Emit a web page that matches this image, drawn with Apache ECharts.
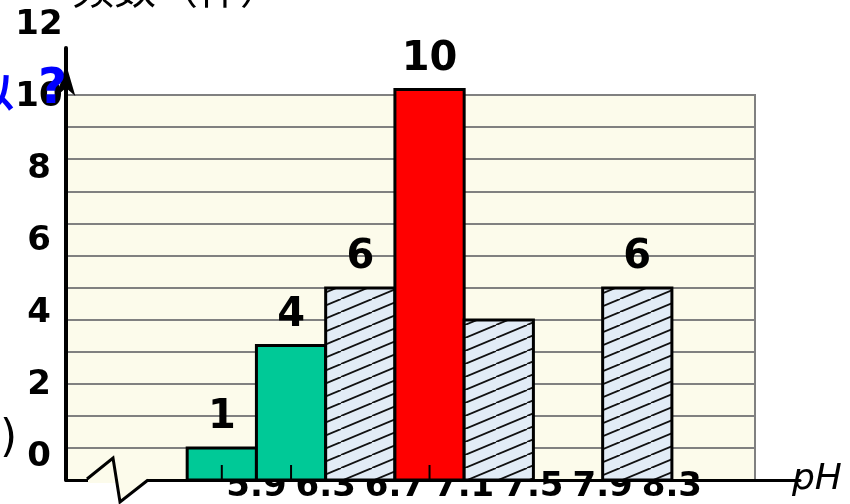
<!DOCTYPE html>
<html>
<head>
<meta charset="utf-8">
<script src="https://cdn.jsdelivr.net/npm/echarts@6/dist/echarts.min.js"></script>
<style>
html, body { margin: 0; padding: 0; background: #fff; }
#chart { width: 850px; height: 504px; }
</style>
</head>
<body>
<div id="chart"></div>
<script>
// pH 分组边界
const binEdges = [5.5, 5.9, 6.3, 6.7, 7.1, 7.5, 7.9, 8.3];
// 柱子在网格上画出的高度
const barHeights = [1, 4.2, 6, 12.2, 5, 0, 6];
// 柱子上方写的频数
const countLabels = ['1', '4', '6', '10', '', '', '6'];
// g 绿色, r 红色, h 斜线
const barKinds = ['g', 'g', 'h', 'r', 'h', 'h', 'h'];
// 柱子中间的小刻度
const centerTicks = [1, 1, 0, 1, 0, 0, 0];
const xTickLabels = [5.9, 6.3, 6.7, 7.1, 7.5, 7.9, 8.3];
const yTickLabels = [0, 2, 4, 6, 8, 10, 12];

const numFont = '"DejaVu Sans", sans-serif';

// 斜线填充
const tile = document.createElement('canvas');
tile.width = 31; tile.height = 13;
const ctx = tile.getContext('2d');
ctx.fillStyle = '#e2ecf6';
ctx.fillRect(0, 0, 31, 13);
ctx.strokeStyle = '#111';
ctx.lineWidth = 1.8;
[-31, 0, 31].forEach(function (dx) {
  ctx.beginPath();
  ctx.moveTo(dx, 13);
  ctx.lineTo(dx + 31, 0);
  ctx.stroke();
});
const hatch = { image: tile, repeat: 'repeat' };

const barData = barHeights.map(function (h, i) {
  return [binEdges[i], binEdges[i + 1], h];
});

function renderBar(params, api) {
  const i = params.dataIndex;
  const h = api.value(2);
  if (!h) return;
  const p0 = api.coord([api.value(0), 0]);
  const p1 = api.coord([api.value(1), h]);
  const kind = barKinds[i];
  const fill = kind === 'g' ? '#00c997' : (kind === 'r' ? '#ff0000' : hatch);
  const cx = (p0[0] + p1[0]) / 2;
  const children = [{
    type: 'rect',
    shape: { x: p0[0], y: p1[1], width: p1[0] - p0[0], height: p0[1] - p1[1] },
    style: { fill: fill, stroke: '#000', lineWidth: 3 }
  }];
  if (centerTicks[i]) {
    children.push({
      type: 'line',
      shape: { x1: cx, y1: p0[1] - 15, x2: cx, y2: p0[1] },
      style: { stroke: '#000', lineWidth: 2 }
    });
  }
  if (countLabels[i]) {
    children.push({
      type: 'text',
      x: cx, y: p1[1] - 30,
      style: { text: countLabels[i], font: 'bold 40px ' + numFont, fill: '#000', align: 'center', verticalAlign: 'middle' }
    });
  }
  return { type: 'group', children: children };
}

const chart = echarts.init(document.getElementById('chart'));
chart.setOption({
  animation: false,
  backgroundColor: '#fff',
  grid: [
    // 米色网格底
    { left: 66, right: 95, top: 95, bottom: 24, show: true, backgroundColor: '#fcfbeb', borderColor: '#808080', borderWidth: 2 },
    // 柱子和坐标轴
    { left: 66, right: 50, top: 48, bottom: 24 },
    // 纵轴数字
    { left: 66, right: 95, top: 25, bottom: 47 }
  ],
  xAxis: [
    { gridIndex: 0, type: 'value', min: 0, max: 1, show: false },
    {
      gridIndex: 1, type: 'value', min: 4.8, max: 9.04, z: 1,
      name: 'pH', nameLocation: 'end', nameGap: -8,
      nameTextStyle: { fontSize: 36, fontStyle: 'italic', fontFamily: numFont, color: '#000', verticalAlign: 'middle' },
      axisLine: { show: true, onZero: false, lineStyle: { color: '#000', width: 3 } },
      axisTick: { show: false },
      splitLine: { show: false },
      axisLabel: { customValues: xTickLabels, margin: -10, fontSize: 34, fontWeight: 'bold', fontFamily: numFont, color: '#000' }
    },
    { gridIndex: 2, type: 'value', min: 0, max: 1, show: false }
  ],
  yAxis: [
    {
      gridIndex: 0, type: 'value', min: 0, max: 12, interval: 1,
      axisLine: { show: false }, axisTick: { show: false }, axisLabel: { show: false },
      splitLine: { show: true, lineStyle: { color: '#808080', width: 2 } }
    },
    {
      gridIndex: 1, type: 'value', min: 0, max: 13.5, z: 1,
      axisLine: { show: true, lineStyle: { color: '#000', width: 4 }, symbol: ['none', 'arrow'], symbolSize: [14, 32], symbolOffset: [0, -16] },
      axisTick: { show: false }, axisLabel: { show: false }, splitLine: { show: false }
    },
    {
      gridIndex: 2, type: 'value', min: 0, max: 12,
      axisLine: { show: false }, axisTick: { show: false }, splitLine: { show: false },
      axisLabel: { customValues: yTickLabels, align: 'center', margin: 27, fontSize: 34, fontWeight: 'bold', fontFamily: numFont, color: '#000' }
    }
  ],
  graphic: [
    { type: 'text', x: 72, y: 9, z: 10, style: { text: '频数（件）', font: '42px "Noto Sans CJK SC"', fill: '#000', align: 'left', verticalAlign: 'bottom' } },
    { type: 'text', x: -26, y: 92, z: 10, style: { text: '以', font: 'bold 40px "Noto Sans CJK SC"', fill: '#0000ff', align: 'left', verticalAlign: 'middle' } },
    { type: 'text', x: 38, y: 90, z: 10, style: { text: '?', font: 'bold 50px ' + numFont, fill: '#0000ff', align: 'left', verticalAlign: 'middle' } },
    { type: 'text', x: 0, y: 440, z: 10, style: { text: ')', font: '44px ' + numFont, fill: '#000', align: 'left', verticalAlign: 'middle' } },
    // 断轴符号
    { type: 'rect', z: 10, shape: { x: 88, y: 477, width: 59, height: 6 }, style: { fill: '#fcfbeb' } },
    { type: 'polygon', z: 10, shape: { points: [[116, 479], [120, 502], [148, 480]] }, style: { fill: '#fcfbeb' } },
    { type: 'polyline', z: 11, shape: { points: [[87, 479], [113, 458], [120, 502], [148, 480]] }, style: { stroke: '#000', lineWidth: 3, fill: null } }
  ],
  series: [{
    type: 'custom',
    xAxisIndex: 1,
    yAxisIndex: 1,
    renderItem: renderBar,
    encode: { x: [0, 1], y: 2 },
    data: barData,
    z: 2
  }]
});
</script>
</body>
</html>
